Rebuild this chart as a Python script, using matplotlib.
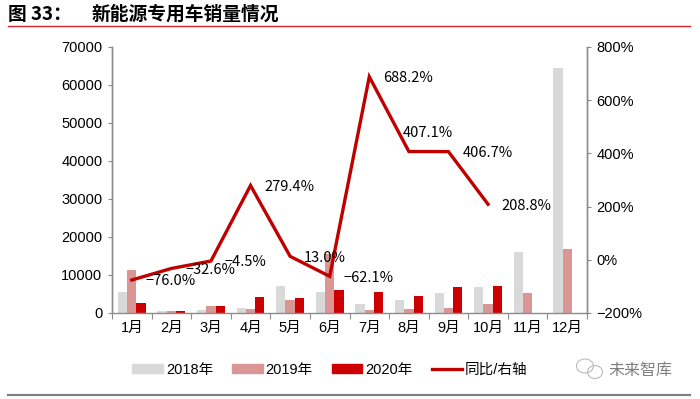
import matplotlib
matplotlib.use('Agg')
import matplotlib.pyplot as plt
from matplotlib.lines import Line2D
from matplotlib.patches import Patch, Ellipse
import numpy as np

plt.rcParams['font.family'] = ['Liberation Sans', 'Noto Sans CJK SC', 'DejaVu Sans']

# 数据
months = ["1月", "2月", "3月", "4月", "5月", "6月", "7月", "8月", "9月", "10月", "11月", "12月"]
sales_2018 = [5400, 600, 800, 1300, 7100, 5400, 2500, 3400, 5200, 6900, 16100, 64400]
sales_2019 = [11300, 500, 1900, 1100, 3400, 15500, 800, 1000, 1400, 2300, 5300, 16900]
sales_2020 = [2700, 400, 1900, 4100, 3900, 6000, 5500, 4500, 6900, 7000]
yoy = [-76.0, -32.6, -4.5, 279.4, 13.0, -62.1, 688.2, 407.1, 406.7, 208.8]
yoy_labels = ["-76.0%", "-32.6%", "-4.5%", "279.4%", "13.0%", "-62.1%",
              "688.2%", "407.1%", "406.7%", "208.8%"]

c18 = "#D9D9D9"
c19 = "#DA9694"
c20 = "#CC0000"
cline = "#C00000"
spine_c = "#8C8C8C"

fig = plt.figure(figsize=(7, 3.99), dpi=100)
ax = fig.add_axes([0.16, 1 - 313 / 399, (587 - 112) / 700, (313 - 47) / 399])
ax2 = ax.twinx()

x = np.arange(len(months))
x20 = np.arange(len(sales_2020))
w = 0.235
ax.bar(x - w, sales_2018, w, color=c18, zorder=2)
ax.bar(x, sales_2019, w, color=c19, zorder=2)
ax.bar(x20 + w, sales_2020, w, color=c20, zorder=2)

ax.set_xlim(-0.5, 11.5)
ax.set_ylim(0, 70000)
ax.set_yticks(np.arange(0, 70001, 10000))
ax.set_xticks(np.arange(-0.5, 12, 1))
ax.set_xticklabels([])
ax.set_xticks(x, minor=True)
ax.set_xticklabels(months, minor=True)
ax.tick_params(axis='x', which='major', length=4, color=spine_c, direction='out')
ax.tick_params(axis='x', which='minor', length=0, pad=6, labelsize=10.5)
ax.tick_params(axis='y', length=3, color=spine_c, labelsize=10.5, pad=4)

# 同比/右轴
ax2.plot(np.arange(len(yoy)), yoy, color=cline, lw=2.4, zorder=5, solid_joinstyle='miter')
ax2.set_ylim(-200, 800)
ax2.set_yticks(np.arange(-200, 801, 200))
ax2.set_yticklabels([f"{v}%" if v >= 0 else f"\u2212{-v}%" for v in range(-200, 801, 200)])
ax2.tick_params(axis='y', length=3, color=spine_c, labelsize=10.5, pad=4)

for a in (ax, ax2):
    a.spines['top'].set_visible(False)
    for s in ('left', 'right', 'bottom'):
        a.spines[s].set_color(spine_c)
        a.spines[s].set_linewidth(1.0)
ax2.spines['bottom'].set_visible(False)
ax.set_zorder(1)
ax2.set_zorder(2)
ax2.patch.set_visible(False)

for i, (v, lab) in enumerate(zip(yoy, yoy_labels)):
    off = (10, -1)
    if i == 7:
        off = (-4.5, 13)
    ax2.annotate(lab.replace("-", "\u2212"), (i, v), xytext=off, textcoords='offset points',
                 ha='left', va='center', fontsize=10.5, family=['Noto Sans CJK SC', 'DejaVu Sans'],
                 zorder=6)

# 标题
fig.text(8 / 700, 1 - 14 / 399, "图 33：", fontsize=13.5, fontweight='bold',
         family=['Noto Sans CJK SC', 'DejaVu Sans'], ha='left', va='center')
fig.text(92 / 700, 1 - 14 / 399, "新能源专用车销量情况", fontsize=13.5, fontweight='bold',
         family=['Noto Sans CJK SC', 'DejaVu Sans'], ha='left', va='center')
fig.add_artist(Line2D([8 / 700, 690 / 700], [1 - 26 / 399, 1 - 26 / 399], color="#D9262C", lw=1.0))
fig.add_artist(Line2D([8 / 700, 690 / 700], [1 - 395 / 399, 1 - 395 / 399], color="#808080", lw=1.6))

# 图例
handles = [Patch(color=c18), Patch(color=c19), Patch(color=c20),
           Line2D([0], [0], color=cline, lw=2.4)]
fig.legend(handles, ["2018年", "2019年", "2020年", "同比/右轴"], loc='center',
           bbox_to_anchor=(330 / 700, 1 - 370 / 399), ncol=4, frameon=False, fontsize=10.5,
           handlelength=2.1, handleheight=0.55, handletextpad=0.2, columnspacing=1.3)

# 水印
fig.add_artist(Ellipse((585 / 700, 1 - 366 / 399), 17 / 700, 14 / 399, fill=False, ec="#BBBBBB", lw=0.8))
fig.add_artist(Ellipse((595 / 700, 1 - 372 / 399), 15 / 700, 13 / 399, fill=False, ec="#BBBBBB", lw=0.8))
fig.text(608 / 700, 1 - 370 / 399, "未来智库", fontsize=11.5, color="#7F7F7F",
         family=['Noto Sans CJK SC', 'DejaVu Sans'], ha='left', va='center')

fig.savefig("out.png", dpi=100)
